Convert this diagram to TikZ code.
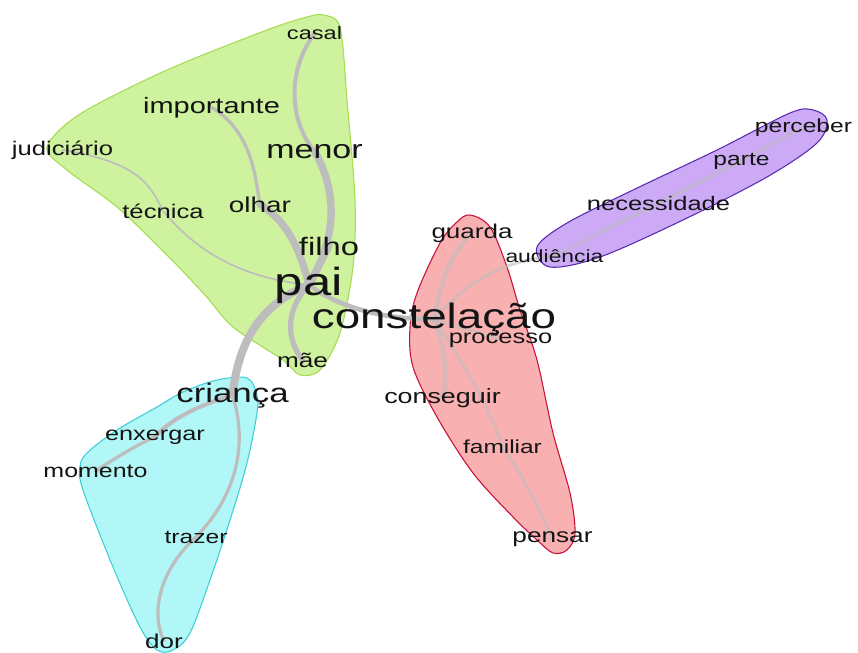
\documentclass[tikz,border=0pt]{standalone}
\usepackage{fontspec}
\setmainfont{Liberation Sans}
\pgfdeclarelayer{paper}
\pgfdeclarelayer{hulls}
\pgfdeclarelayer{edges}
\pgfsetlayers{paper,hulls,edges,main}
\definecolor{txt}{HTML}{141414}
\definecolor{gfill}{HTML}{CEF29E}
\definecolor{gline}{HTML}{A6DC4E}
\definecolor{bfill}{HTML}{B2F7F7}
\definecolor{bline}{HTML}{3CCFD8}
\definecolor{rfill}{HTML}{F8B0B0}
\definecolor{rline}{HTML}{C8103A}
\definecolor{pfill}{HTML}{CCAAF6}
\definecolor{pline}{HTML}{5A2AB0}
\definecolor{edgecol}{HTML}{BDBDBD}
\newcommand{\fsz}[1]{\fontsize{#1}{#1}\selectfont}
\tikzset{
  word/.style={anchor=base, xscale=1.3, text=txt, inner sep=0pt},
  hull/.style={line width=0.8pt},
  link/.style={draw=edgecol, line cap=round},
  softlink/.style={draw=edgecol, line cap=round, opacity=0.55},
}
\begin{document}
\begin{tikzpicture}[x=0.75pt,y=-0.75pt]
\useasboundingbox (0,0) rectangle (858,653);
\begin{pgfonlayer}{paper}
\fill[white] (0,0) rectangle (858,653);
\end{pgfonlayer}

% words
\node[word, font=\fsz{13.6}] (casal) at (314.5,40) {casal};
\node[word, font=\fsz{16.7}] (importante) at (211.5,113) {importante};
\node[word, font=\fsz{14.8}] (judiciario) at (62.5,155) {judiciário};
\node[word, font=\fsz{19.6}] (menor) at (314.5,158) {menor};
\node[word, font=\fsz{14.8}] (tecnica) at (163,218) {técnica};
\node[word, font=\fsz{16.1}] (olhar) at (260,212) {olhar};
\node[word, font=\fsz{18.9}] (filho) at (329,255) {filho};
\node[word, font=\fsz{29.4}] (pai) at (309,295) {pai};
\node[word, font=\fsz{26.4}] (constelacao) at (434,328) {constelação};
\node[word, font=\fsz{15.1}] (mae) at (302.5,367) {mãe};
\node[word, font=\fsz{20.1}] (crianca) at (232.5,402) {criança};
\node[word, font=\fsz{14.6}] (enxergar) at (155,440) {enxergar};
\node[word, font=\fsz{14.4}] (momento) at (95.5,477) {momento};
\node[word, font=\fsz{14.2}] (trazer) at (196,543) {trazer};
\node[word, font=\fsz{15}] (dor) at (164,648) {dor};
\node[word, font=\fsz{15}] (guarda) at (472,238) {guarda};
\node[word, font=\fsz{13.2}] (audiencia) at (554.5,262) {audiência};
\node[word, font=\fsz{14.7}] (necessidade) at (658.5,210) {necessidade};
\node[word, font=\fsz{14.2}] (parte) at (741.5,165) {parte};
\node[word, font=\fsz{14.2}] (perceber) at (803.5,132) {perceber};
\node[word, font=\fsz{14.7}] (processo) at (500.5,343) {processo};
\node[word, font=\fsz{15.5}] (conseguir) at (442.5,403) {conseguir};
\node[word, font=\fsz{14.1}] (familiar) at (502.5,453) {familiar};
\node[word, font=\fsz{15.1}] (pensar) at (552.5,542) {pensar};

% cluster hulls
\begin{pgfonlayer}{hulls}
\filldraw[hull, fill=gfill, draw=gline] plot[smooth cycle, tension=0.5] coordinates {
 (323,15) (340,27) (347,100) (355,200) (353,267) (340,333) (320,370) (300,375)
 (283,360) (233,327) (205,295) (167,255) (117,207) (67,170) (47,147) (80,114)
 (167,70) (267,30) (307,17)};
\filldraw[hull, fill=bfill, draw=bline] plot[smooth cycle, tension=0.55] coordinates {
 (217,380) (247,378) (257,395) (257,413) (247,463) (230,520) (210,580) (190,633)
 (173,650) (157,650) (140,627) (113,567) (83,490) (80,467) (87,453) (117,430)
 (157,407) (183,392)};
\filldraw[hull, fill=rfill, draw=rline] plot[smooth cycle, tension=0.55] coordinates {
 (470,215) (490,227) (507,267) (520,310) (537,360) (553,433) (570,493) (575,533)
 (567,550) (553,553) (537,540) (513,517) (473,473) (437,417) (413,367) (410,327)
 (417,293) (440,243) (457,222)};
\filldraw[hull, fill=pfill, draw=pline] plot[smooth cycle, tension=0.55] coordinates {
 (537,247) (550,267) (600,257) (683,220) (767,177) (817,143) (827,120) (813,110)
 (790,113) (717,150) (633,190) (567,223)};
\end{pgfonlayer}

% edges
\begin{pgfonlayer}{edges}
\draw[link, line width=5.5pt] (pai.center) .. controls (332,245) and (342,200) .. (menor.center);
\draw[link, line width=3pt] (menor.center) .. controls (292,125) and (284,75) .. (casal.center);
\draw[link, line width=5.5pt] (olhar.center) .. controls (288,222) and (300,250) .. (pai.center);
\draw[link, line width=2.4pt] (importante.center) .. controls (252,132) and (255,175) .. (olhar.center);
\draw[link, line width=5.5pt] (pai.center) -- (filho.center);
\draw[link, line width=1.2pt] (judiciario.center) .. controls (140,163) and (150,185) .. (tecnica.center);
\draw[link, line width=1.2pt] (tecnica.center) .. controls (195,250) and (240,278) .. (pai.center);
\draw[link, line width=4pt] (pai.center) .. controls (283,312) and (288,342) .. (mae.center);
\draw[link, line width=3.5pt] (pai.center) .. controls (335,305) and (380,320) .. (constelacao.center);
\draw[link, line width=6pt] (pai.center) .. controls (258,305) and (238,345) .. (crianca.center);
\draw[link, line width=3pt] (crianca.center) .. controls (200,405) and (172,418) .. (enxergar.center);
\draw[link, line width=2.4pt] (enxergar.center) .. controls (132,448) .. (momento.center);
\draw[link, line width=2.4pt] (crianca.center) .. controls (250,450) and (232,500) .. (trazer.center);
\draw[link, line width=2.4pt] (trazer.center) .. controls (160,570) and (150,612) .. (dor.center);
\draw[softlink, line width=3.5pt] (constelacao.center) .. controls (440,290) and (445,260) .. (guarda.center);
\draw[softlink, line width=2.4pt] (constelacao.center) .. controls (470,280) and (500,262) .. (audiencia.center);
\draw[softlink, line width=2.4pt] (constelacao.center) -- (processo.center);
\draw[softlink, line width=3.5pt] (constelacao.center) .. controls (445,350) and (448,375) .. (conseguir.center);
\draw[softlink, line width=2.4pt] (constelacao.center) .. controls (468,370) and (490,410) .. (familiar.center);
\draw[softlink, line width=2.4pt] (familiar.center) .. controls (525,480) and (540,510) .. (pensar.center);
\draw[softlink, line width=2.4pt] (audiencia.center) -- (necessidade.center);
\draw[softlink, line width=2.4pt] (necessidade.center) -- (parte.center);
\draw[softlink, line width=2.4pt] (parte.center) -- (perceber.center);
\end{pgfonlayer}
\end{tikzpicture}
\end{document}
